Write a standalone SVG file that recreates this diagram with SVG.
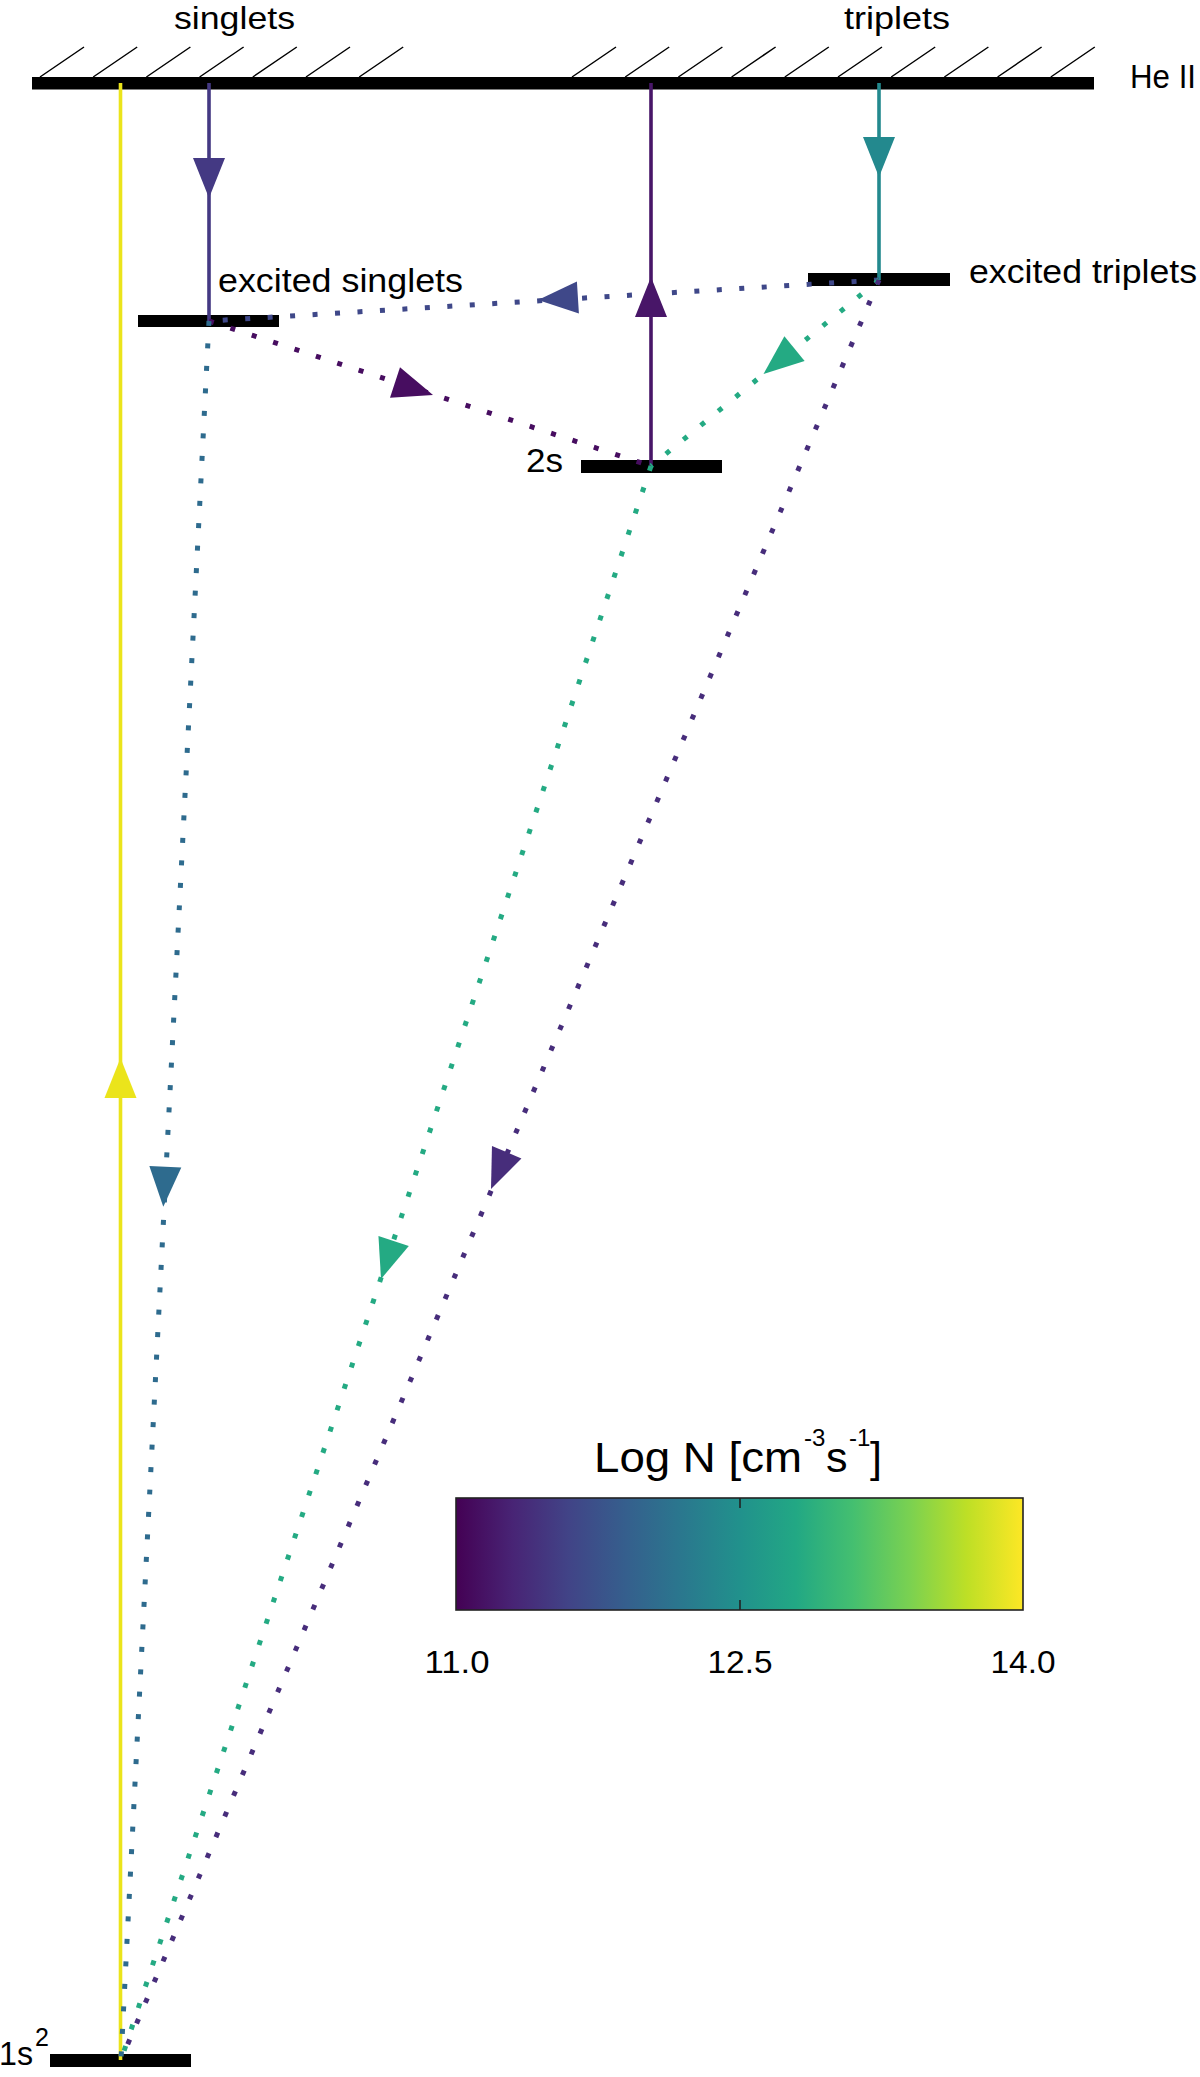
<svg xmlns="http://www.w3.org/2000/svg" width="1200" height="2077" viewBox="0 0 1200 2077">
<style>
text{font-family:"Liberation Sans",Arial,sans-serif;fill:#000}
.lbl{font-size:34px}
.top{font-size:32px}
.bar{fill:#000}
.solid{fill:none;stroke-width:3.6}
.dot{fill:none;stroke-width:5;stroke-dasharray:5 17.5;stroke-linecap:butt}
.hatch{fill:none;stroke:#000;stroke-width:1.5}
</style>
<defs>
<path id="ah" d="M0,0 L-40,-16 L-40,16 Z"/>
<linearGradient id="viridis" x1="0" y1="0" x2="1" y2="0">
<stop offset="0" stop-color="#440154"/>
<stop offset="0.1" stop-color="#482475"/>
<stop offset="0.2" stop-color="#414487"/>
<stop offset="0.3" stop-color="#355f8d"/>
<stop offset="0.4" stop-color="#2a788e"/>
<stop offset="0.5" stop-color="#21918c"/>
<stop offset="0.6" stop-color="#22a884"/>
<stop offset="0.7" stop-color="#44bf70"/>
<stop offset="0.8" stop-color="#7ad151"/>
<stop offset="0.9" stop-color="#bddf26"/>
<stop offset="1" stop-color="#fde725"/>
</linearGradient>
</defs>
<rect width="1200" height="2077" fill="#fff"/>

<g id="heII">
<path class="hatch" d="M40,77l44,-30M93.2,77l44,-30M146.4,77l44,-30M199.6,77l44,-30M252.8,77l44,-30M306,77l44,-30M359.2,77l44,-30M572,77l44,-30M625.2,77l44,-30M678.4,77l44,-30M731.6,77l44,-30M784.8,77l44,-30M838,77l44,-30M891.2,77l44,-30M944.4,77l44,-30M997.6,77l44,-30M1050.8,77l44,-30"/>
<rect class="bar" x="32" y="77" width="1062" height="12.5"/>
<text class="lbl" x="1130" y="88" textLength="66" lengthAdjust="spacingAndGlyphs">He II</text>
<text class="top" x="174" y="29" textLength="121" lengthAdjust="spacingAndGlyphs">singlets</text>
<text class="top" x="844" y="29" textLength="106" lengthAdjust="spacingAndGlyphs">triplets</text>
</g>

<g id="excited-singlets">
<rect class="bar" x="138" y="315" width="141" height="12"/>
<text class="lbl" x="218" y="292" textLength="245" lengthAdjust="spacingAndGlyphs">excited singlets</text>
</g>

<g id="excited-triplets">
<rect class="bar" x="808" y="273" width="142" height="13"/>
<text class="lbl" x="969" y="283" textLength="228" lengthAdjust="spacingAndGlyphs">excited triplets</text>
</g>

<g id="level-2s">
<rect class="bar" x="581" y="460" width="141" height="13"/>
<text class="lbl" x="526" y="472" textLength="37" lengthAdjust="spacingAndGlyphs">2s</text>
</g>

<g id="ground-1s2">
<rect class="bar" x="50" y="2054" width="141" height="13"/>
<text class="lbl" x="-1" y="2065" textLength="34" lengthAdjust="spacingAndGlyphs">1s</text>
<text x="35" y="2046" style="font-size:25px">2</text>
</g>

<g id="connectors">
<line class="solid" x1="120.5" y1="83" x2="120.5" y2="2060" stroke="#ebe41b" stroke-width="4.3"/>
<line class="solid" x1="209" y1="83" x2="209" y2="321" stroke="#443983"/>
<line class="solid" x1="651" y1="83" x2="651" y2="466" stroke="#481668"/>
<line class="solid" x1="879" y1="83" x2="879" y2="280" stroke="#23898e"/>

<line class="dot" x1="879" y1="280" x2="209" y2="321" stroke="#3f4889"/>
<line class="dot" x1="209" y1="321" x2="651" y2="466" stroke="#470d60"/>
<line class="dot" x1="879" y1="280" x2="651" y2="466" stroke="#24aa83"/>
<line class="dot" x1="651" y1="466" x2="121" y2="2060" stroke="#24aa83"/>
<line class="dot" x1="209" y1="321" x2="121" y2="2060" stroke="#2e6b8e"/>
<line class="dot" x1="879" y1="280" x2="121" y2="2060" stroke="#472d7b"/>

<use href="#ah" transform="translate(209,198) rotate(90)" fill="#443983"/>
<use href="#ah" transform="translate(879,177) rotate(90)" fill="#23898e"/>
<use href="#ah" transform="translate(120.5,1058) rotate(-90)" fill="#ebe41b"/>
<use href="#ah" transform="translate(651,277) rotate(-90)" fill="#481668"/>
<use href="#ah" transform="translate(538,300) rotate(176.4)" fill="#3f4889"/>
<use href="#ah" transform="translate(433,395) rotate(18.2)" fill="#470d60"/>
<use href="#ah" transform="translate(763.5,374) rotate(140.8)" fill="#24aa83"/>
<use href="#ah" transform="translate(163.3,1206.7) rotate(92.9)" fill="#2e6b8e"/>
<use href="#ah" transform="translate(381,1279) rotate(108.4)" fill="#24aa83"/>
<use href="#ah" transform="translate(491,1189) rotate(113.1)" fill="#472d7b"/>
</g>

<g id="colorbar">
<text x="594" y="1472" style="font-size:43px"><tspan x="594" textLength="208" lengthAdjust="spacingAndGlyphs">Log N [cm</tspan><tspan x="804" y="1446" style="font-size:24px">-3</tspan><tspan x="826" y="1472">s</tspan><tspan x="849" y="1446" style="font-size:24px">-1</tspan><tspan x="870" y="1472">]</tspan></text>
<rect x="456" y="1498" width="567" height="112" fill="url(#viridis)" stroke="#222" stroke-width="1.6"/>
<path d="M740,1498v10M740,1600v10" stroke="#222" stroke-width="1.6"/>
<text x="457" y="1673" text-anchor="middle" style="font-size:31px" textLength="65" lengthAdjust="spacingAndGlyphs">11.0</text>
<text x="740" y="1673" text-anchor="middle" style="font-size:31px" textLength="65" lengthAdjust="spacingAndGlyphs">12.5</text>
<text x="1023" y="1673" text-anchor="middle" style="font-size:31px" textLength="65" lengthAdjust="spacingAndGlyphs">14.0</text>
</g>
</svg>
